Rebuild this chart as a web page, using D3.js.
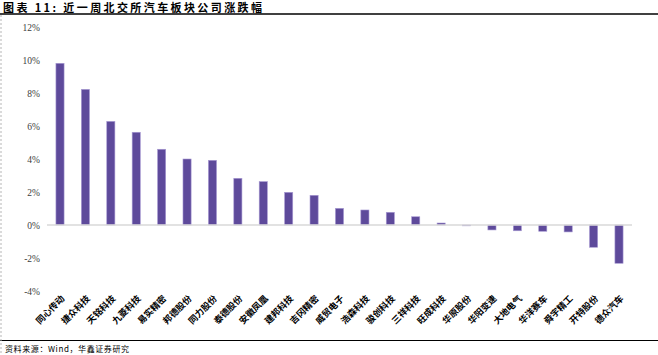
<!DOCTYPE html>
<html><head><meta charset="utf-8">
<script src="https://cdn.jsdelivr.net/npm/d3@7"></script>
<style>body{margin:0;background:#fff;}svg{display:block;}</style>
</head><body>
<svg id="chart" width="658" height="355"></svg>
<script>
const categories = ["同心传动","捷众科技","天铭科技","九菱科技","易实精密","邦德股份","同力股份","泰德股份","安徽凤凰","建邦科技","吉冈精密","威贸电子","浩森科技","骏创科技","三祥科技","旺成科技","华原股份","华阳变速","大地电气","华洋赛车","舜宇精工","开特股份","德众汽车"];
const values = [9.8, 8.22, 6.28, 5.62, 4.59, 4.0, 3.92, 2.83, 2.63, 1.98, 1.8, 1.01, 0.91, 0.77, 0.5, 0.12, -0.05, -0.3, -0.35, -0.38, -0.42, -1.35, -2.32];
const tickValues = [-4, -2, 0, 2, 4, 6, 8, 10, 12];
const titleText = "图表 11:  近一周北交所汽车板块公司涨跌幅";
const sourceText = "资料来源：Wind，华鑫证券研究";

const svg = d3.select("#chart");
const W = 658, H = 355;
const cjk = "'Noto Sans CJK SC','Noto Sans',sans-serif";

// header / footer rules
svg.append("text").attr("x", 3).attr("y", 11.5).attr("font-family", cjk)
  .attr("font-size", 11).attr("font-weight", "bold").attr("letter-spacing", 2.4)
  .attr("fill", "#000").text(titleText);
svg.append("line").attr("x1", 0).attr("x2", W).attr("y1", 14).attr("y2", 14)
  .attr("stroke", "#000").attr("stroke-width", 1.5);
svg.append("line").attr("x1", 0).attr("x2", W).attr("y1", 340.5).attr("y2", 340.5)
  .attr("stroke", "#000").attr("stroke-width", 1.2);
svg.append("line").attr("x1", 1).attr("x2", 1).attr("y1", 15).attr("y2", 355)
  .attr("stroke", "#b5b5b5").attr("stroke-width", 1).attr("stroke-dasharray", "2,2");
svg.append("text").attr("x", 5).attr("y", 352).attr("font-family", cjk)
  .attr("font-size", 8).attr("letter-spacing", 0.6).attr("fill", "#000").text(sourceText);

const x = d3.scaleBand().domain(categories).range([47.3, 631.7]).paddingInner(0.68).paddingOuter(0.34);
const y = d3.scaleLinear().domain([-4, 12]).range([291, 27]);

// y axis labels
const yAxis = d3.axisLeft(y).tickValues(tickValues).tickSize(0).tickPadding(0)
  .tickFormat(d => d + "%");
const ga = svg.append("g").attr("transform", "translate(40,0)").call(yAxis);
ga.select(".domain").remove();
ga.selectAll("text").attr("font-family", "'Liberation Serif','Times New Roman',serif")
  .attr("font-size", 9.5).attr("fill", "#404040");

// bars
svg.append("g").selectAll("rect").data(values).join("rect")
  .attr("x", (d, i) => x(categories[i]))
  .attr("width", x.bandwidth())
  .attr("y", d => y(Math.max(0, d)))
  .attr("height", d => Math.abs(y(d) - y(0)))
  .attr("fill", "#5E4A9B")
  .attr("stroke", "#a89ad3").attr("stroke-width", 0.6);

// zero line
svg.append("line").attr("x1", 47).attr("x2", 632).attr("y1", y(0)).attr("y2", y(0))
  .attr("stroke", "#d9d9d9").attr("stroke-width", 1.5);

// category labels
const xAxis = d3.axisBottom(x).tickSize(0).tickPadding(0);
const gx = svg.append("g").attr("transform", "translate(0,297)").call(xAxis);
gx.select(".domain").remove();
gx.selectAll("text")
  .attr("font-family", cjk).attr("font-size", 9).attr("font-weight", "bold").attr("fill", "#000")
  .attr("text-anchor", "end").attr("dy", "0.35em")
  .attr("transform", "translate(3,0) rotate(-45)");
</script>
</body></html>
